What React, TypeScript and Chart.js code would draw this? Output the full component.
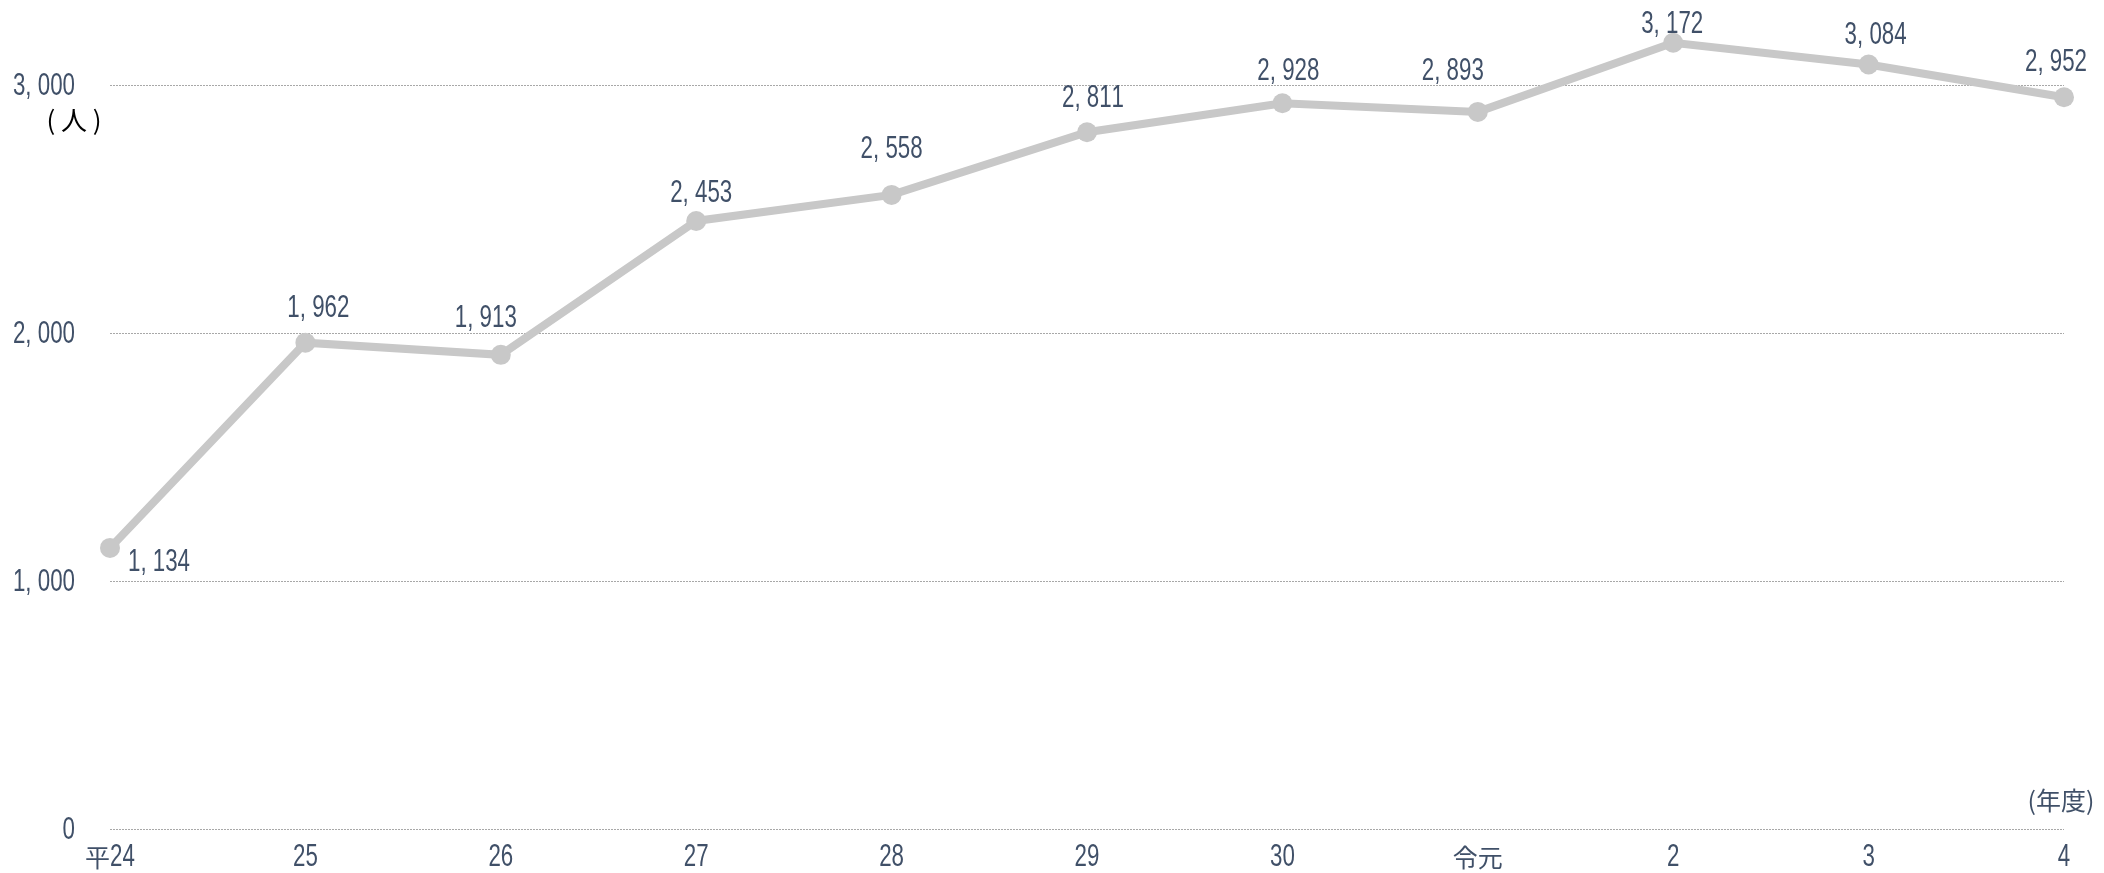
import React, { useEffect, useRef } from "react";
import { Chart, registerables } from "chart.js";

Chart.register(...registerables);

const categories = ["平24", "25", "26", "27", "28", "29", "30", "令元", "2", "3", "4"];
const values = [1134, 1962, 1913, 2453, 2558, 2811, 2928, 2893, 3172, 3084, 2952];
const yTicks = [0, 1000, 2000, 3000];
// label placement relative to each point (px)
const labelOffsets: [number, number][] = [
  [49, 15], [13, -34], [-15, -36], [5, -28], [0, -45], [6, -34],
  [6, -32], [-25, -40], [-1, -18], [7, -29], [-8, -35],
];

const TEXT = "#405068";
const LINE = "#c8c8c8";
const LATIN = "'Liberation Sans', Arial, sans-serif";
const CJK = "'Noto Sans CJK JP', sans-serif";

const isCJK = (ch: string) => ch.charCodeAt(0) > 0x2e7f;
const fmt = (v: number) => v.toLocaleString("en-US").replace(/,/g, ", ");

function drawMixed(
  ctx: CanvasRenderingContext2D,
  text: string,
  x: number,
  y: number,
  align: "left" | "center" | "right",
  color = TEXT,
  latinSize = 31,
  cjkSize = 25,
  sx = 0.72
) {
  const segs: { ch: string; cjk: boolean; w: number }[] = [];
  for (const ch of text) {
    const cjk = isCJK(ch);
    ctx.font = cjk ? `${cjkSize}px ${CJK}` : `${latinSize}px ${LATIN}`;
    const w = ctx.measureText(ch).width * (cjk ? 1 : sx);
    segs.push({ ch, cjk, w });
  }
  const total = segs.reduce((a, s) => a + s.w, 0);
  let cx = align === "center" ? x - total / 2 : align === "right" ? x - total : x;
  ctx.save();
  ctx.fillStyle = color;
  ctx.textBaseline = "middle";
  ctx.textAlign = "left";
  for (const s of segs) {
    ctx.font = s.cjk ? `${cjkSize}px ${CJK}` : `${latinSize}px ${LATIN}`;
    ctx.save();
    ctx.translate(cx, y);
    if (!s.cjk) ctx.scale(sx, 1);
    ctx.fillText(s.ch, 0, 0);
    ctx.restore();
    cx += s.w;
  }
  ctx.restore();
}

const textPlugin = {
  id: "textPlugin",
  afterDraw(chart: any) {
    const ctx: CanvasRenderingContext2D = chart.ctx;
    const xs = chart.scales.x;
    const ys = chart.scales.y;
    // y tick labels
    yTicks.forEach((v) => {
      drawMixed(ctx, fmt(v), 75, ys.getPixelForValue(v) + 1, "right");
    });
    // x tick labels
    categories.forEach((c, i) => {
      drawMixed(ctx, c, xs.getPixelForValue(i), 857, "center");
    });
    // data labels
    const meta = chart.getDatasetMeta(0);
    meta.data.forEach((pt: any, i: number) => {
      const [dx, dy] = labelOffsets[i];
      drawMixed(ctx, fmt(values[i]), pt.x + dx, pt.y + dy, "center");
    });
    // unit labels
    ctx.save();
    ctx.fillStyle = "#000000";
    ctx.font = `26px ${CJK}`;
    ctx.textAlign = "center";
    ctx.textBaseline = "middle";
    ctx.fillText("( 人 )", 74, 120);
    ctx.fillStyle = TEXT;
    ctx.font = `25px ${CJK}`;
    ctx.fillText("(年度)", 2061, 800);
    ctx.restore();
  },
};

export default function App() {
  const ref = useRef<HTMLCanvasElement>(null);
  useEffect(() => {
    if (!ref.current) return;
    const chart = new Chart(ref.current, {
      type: "line",
      data: {
        labels: categories,
        datasets: [
          {
            data: values,
            borderColor: LINE,
            backgroundColor: LINE,
            borderWidth: 8,
            pointRadius: 10,
            pointHoverRadius: 10,
            pointBackgroundColor: LINE,
            pointBorderWidth: 0,
            tension: 0,
            clip: false as any,
          },
        ],
      },
      options: {
        responsive: false,
        animation: false,
        devicePixelRatio: 1,
        layout: { padding: { left: 110, right: 40, top: 11, bottom: 44 } },
        plugins: { legend: { display: false }, tooltip: { enabled: false } },
        scales: {
          x: {
            type: "category",
            offset: false,
            grid: { display: false },
            border: { display: false },
            ticks: { display: false },
            afterFit: (s: any) => {
              s.height = 0;
            },
          },
          y: {
            min: 0,
            max: 3300,
            grid: {
              color: "#a8a8a8",
              lineWidth: 1,
              drawTicks: false,
            },
            border: { display: false, dash: [2, 1] },
            ticks: { display: false },
            afterBuildTicks: (s: any) => {
              s.ticks = yTicks.map((v) => ({ value: v }));
            },
            afterFit: (s: any) => {
              s.width = 0;
            },
          },
        },
      },
      plugins: [textPlugin],
    });
    return () => chart.destroy();
  }, []);
  return (
    <div style={{ position: "absolute", left: 0, top: 0, width: 2104, height: 873 }}>
      <canvas ref={ref} width={2104} height={873} style={{ width: 2104, height: 873 }} />
    </div>
  );
}
